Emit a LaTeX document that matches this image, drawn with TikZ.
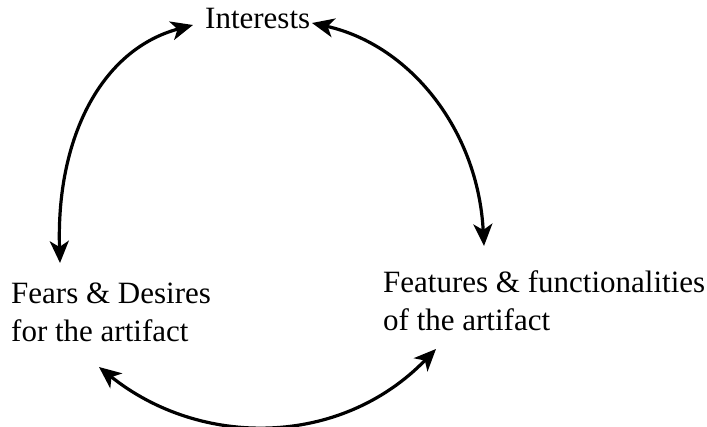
\documentclass[tikz,border=0pt]{standalone}
\usepackage{fontspec}
\setmainfont{Liberation Serif}
\usetikzlibrary{arrows.meta}
\begin{document}
\begin{tikzpicture}[x=1pt,y=-1pt,
  label/.style={inner sep=0pt,align=left,font=\fontsize{31}{35}\selectfont},
  link/.style={line width=3.2pt,{Stealth[length=22pt,width=19pt,inset=6pt]}-{Stealth[length=22pt,width=19pt,inset=6pt]}}]
  \useasboundingbox (0,0) rectangle (707,427);
  % the three labels
  \node[label,anchor=base west] (interests) at (205,29) {Interests};
  \node[label,anchor=north west] (fears) at (11,283) {Fears \& Desires\\[3pt]for the artifact};
  \node[label,anchor=north west] (features) at (383,270) {Features \& functionalities\\[3pt]of the artifact};
  % arrow end points
  \coordinate (a1) at (60,263);
  \coordinate (a2) at (193,25);
  \coordinate (b1) at (312,23);
  \coordinate (b2) at (484,246);
  \coordinate (c1) at (99,367);
  \coordinate (c2) at (436,349);
  % curved double-headed connectors
  \draw[link] (a1) .. controls (56,140) and (100,50) .. (a2);
  \draw[link] (b1) .. controls (410,45) and (478,130) .. (b2);
  \draw[link] (c1) .. controls (200,448) and (340,448) .. (c2);
\end{tikzpicture}
\end{document}
